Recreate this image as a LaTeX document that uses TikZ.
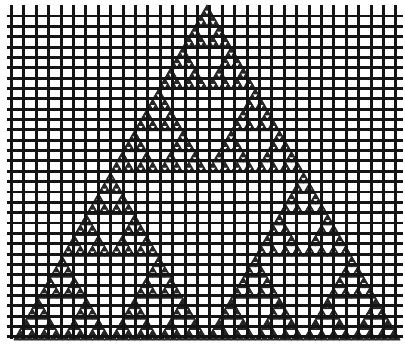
\documentclass[tikz,border=0pt]{standalone}
\tikzset{
  tri/.style={fill=black!85, draw=black!85, line width=0.9pt, line join=round},
  gridline/.style={draw=black!92, line width=2.9pt},
}
\newcommand\gaskt[1]{%
  \ifnum#1=0
    \filldraw[tri] (0,0)--(1,0)--(0.5,-1)--cycle;
  \else
    \begin{scope}[scale=0.5]\gaskt{\numexpr#1-1\relax}\end{scope}%
    \begin{scope}[shift={(0.5,0)},scale=0.5]\gaskt{\numexpr#1-1\relax}\end{scope}%
    \begin{scope}[shift={(0.25,-0.5)},scale=0.5]\gaskt{\numexpr#1-1\relax}\end{scope}%
  \fi}
\begin{document}
\begin{tikzpicture}[x=1pt,y=-1pt]
  \fill[white] (0,0) rectangle (405,346);
  \useasboundingbox (0,0) rectangle (405,346);
  % Sierpinski gasket
  \begin{scope}[shift={(14,340)},xscale=386,yscale=335]
    \gaskt{6}
  \end{scope}
  % grid
  \foreach \i in {0,...,31} {
    \draw[gridline] ({11.5+12.4*\i},5) -- ({11.5+12.4*\i},339);
  }
  \foreach \j in {0,...,31} {
    \draw[gridline] (7,{16+10.35*\j}) -- (403,{16+10.35*\j});
  }
\end{tikzpicture}
\end{document}
